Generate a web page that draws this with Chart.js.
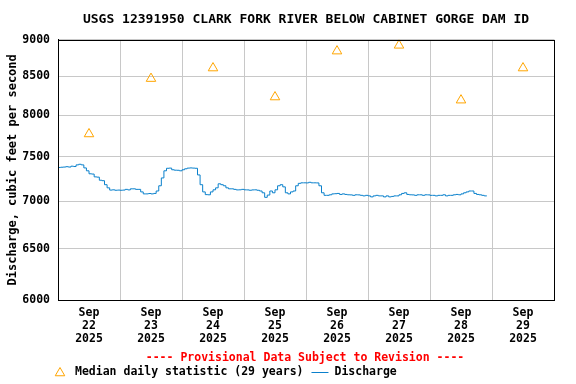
<!DOCTYPE html>
<html>
<head>
<meta charset="utf-8">
<script src="https://cdn.jsdelivr.net/npm/chart.js@4.4.0/dist/chart.umd.min.js"></script>
<style>
  html, body { margin: 0; padding: 0; background: #fff; }
  #wrap { width: 576px; height: 384px; }
</style>
</head>
<body>
<div id="wrap"><canvas id="hydroChart"></canvas></div>
<script>
// DATA

const dayLabels = ["22", "23", "24", "25", "26", "27", "28", "29"];
const yTickValues = [6000, 6500, 7000, 7500, 8000, 8500, 9000];

// median daily statistic, plotted at noon of each day (hours since Sep 22 00:00)
const medianHours = [12, 36, 60, 84, 108, 132, 156, 180];
const medianCfs = [7770, 8470, 8610, 8230, 8840, 8920, 8190, 8610];

// discharge, one value per hour starting Sep 22 00:00
const dischargeCfs = [
  7375, 7378, 7380, 7384, 7380, 7390, 7386, 7405, 7412, 7405,
  7370, 7337, 7303, 7300, 7268, 7265, 7230, 7225, 7180, 7145,
  7120, 7123, 7118, 7120, 7118, 7120, 7128, 7122, 7134, 7134,
  7128, 7128, 7100, 7078, 7078, 7082, 7078, 7083, 7110, 7168,
  7256, 7337, 7366, 7368, 7349, 7344, 7343, 7337, 7349, 7360,
  7368, 7370, 7368, 7366, 7290, 7180, 7100, 7070, 7068, 7100,
  7123, 7145, 7190, 7180, 7168, 7145, 7134, 7134, 7128, 7122,
  7123, 7128, 7123, 7122, 7118, 7122, 7123, 7118, 7110, 7090,
  7040, 7065, 7110, 7090, 7123, 7168, 7180, 7156, 7090, 7078,
  7100, 7110, 7168, 7195, 7201, 7201, 7200, 7207, 7201, 7201,
  7200, 7168, 7090, 7062, 7062, 7068, 7078, 7080, 7083, 7072,
  7078, 7072, 7068, 7067, 7062, 7068, 7067, 7062, 7056, 7062,
  7056, 7045, 7056, 7062, 7056, 7056, 7045, 7056, 7045, 7050,
  7056, 7056, 7068, 7083, 7090, 7072, 7068, 7067, 7062, 7068,
  7068, 7062, 7068, 7067, 7062, 7062, 7056, 7062, 7062, 7068,
  7056, 7062, 7062, 7068, 7072, 7068, 7078, 7090, 7100, 7110,
  7110, 7083, 7072, 7068, 7062, 7056, 7056,
];

const MONO = "'DejaVu Sans Mono', 'Liberation Mono', monospace";
const ORANGE = "#ffa500";
const BLUE = "#0a80cc";

// frame round the plot + provisional note + legend
const frameAndNotes = {
  id: "frameAndNotes",
  afterDraw(chart) {
    const { ctx, chartArea: a } = chart;
    ctx.save();
    ctx.strokeStyle = "#000";
    ctx.lineWidth = 1;
    ctx.strokeRect(Math.round(a.left) + 0.5, Math.round(a.top) + 0.5,
      Math.round(a.right - a.left), Math.round(a.bottom - a.top));

    ctx.textBaseline = "middle";
    ctx.textAlign = "center";
    ctx.fillStyle = "#ff0000";
    ctx.font = "bold 11.5px " + MONO;
    ctx.fillText("---- Provisional Data Subject to Revision ----", 305, 358);

    const ly = 372;
    ctx.strokeStyle = ORANGE;
    ctx.fillStyle = "rgba(0,0,0,0)";
    Chart.helpers.drawPoint(ctx, { pointStyle: "triangle", radius: 5.5, borderWidth: 1 }, 60, ly + 1);

    ctx.textAlign = "left";
    ctx.fillStyle = "#000";
    ctx.font = "bold 11.5px " + MONO;
    const t1 = "Median daily statistic (29 years)";
    ctx.fillText(t1, 75, ly);
    const lx = 75 + ctx.measureText(t1).width + 8;
    ctx.strokeStyle = BLUE;
    ctx.beginPath();
    ctx.moveTo(lx, ly + 0.5);
    ctx.lineTo(lx + 17, ly + 0.5);
    ctx.stroke();
    ctx.fillText("Discharge", lx + 23, ly);
    ctx.restore();
  },
};

const hydroChart = document.getElementById("hydroChart");

new Chart(hydroChart, {
  type: "line",
  data: {
    datasets: [
      {
        label: "Median daily statistic (29 years)",
        data: medianHours.map((h, i) => ({ x: h, y: medianCfs[i] })),
        showLine: false,
        pointStyle: "triangle",
        pointRadius: 5.5,
        pointBorderWidth: 1,
        borderColor: ORANGE,
        backgroundColor: "rgba(0,0,0,0)",
      },
      {
        label: "Discharge",
        data: dischargeCfs.map((v, i) => ({ x: i, y: v })),
        borderColor: BLUE,
        borderWidth: 1,
        pointRadius: 0,
        stepped: true,
      },
    ],
  },
  options: {
    responsive: true,
    maintainAspectRatio: false,
    animation: false,
    layout: { padding: { left: 0, right: 22, top: 0, bottom: 38 } },
    plugins: {
      legend: { display: false },
      tooltip: { enabled: false },
      title: {
        display: true,
        fullSize: false,
        text: "USGS 12391950 CLARK FORK RIVER BELOW CABINET GORGE DAM ID",
        color: "#000",
        font: { family: MONO, size: 13, weight: "bold" },
        padding: { top: 12, bottom: 12 },
      },
    },
    scales: {
      x: {
        type: "linear",
        min: 0,
        max: 192,
        afterBuildTicks: (scale) => {
          const t = [];
          for (let h = 0; h <= 192; h += 12) t.push({ value: h });
          scale.ticks = t;
        },
        afterFit: (scale) => {
          scale.height = 46;
        },
        grid: {
          drawTicks: false,
          color: (ctx) => (ctx.tick && ctx.tick.value % 24 === 0 ? "#c8c8c8" : "rgba(0,0,0,0)"),
        },
        border: { color: "#000" },
        ticks: {
          autoSkip: false,
          maxRotation: 0,
          padding: 7,
          color: "#000",
          font: { family: MONO, size: 11.5, weight: "bold", lineHeight: 1.13 },
          callback: (v) => (v % 24 === 12 ? ["Sep", dayLabels[(v - 12) / 24], "2025"] : ""),
        },
      },
      y: {
        type: "logarithmic",
        min: 6000,
        max: 9000,
        afterBuildTicks: (scale) => {
          scale.ticks = yTickValues.map((v) => ({ value: v }));
        },
        afterFit: (scale) => {
          scale.width = 58;
        },
        grid: { drawTicks: false, color: "#c8c8c8" },
        border: { color: "#000" },
        ticks: {
          padding: 8,
          color: "#000",
          font: { family: MONO, size: 11.5, weight: "bold" },
          callback: (v) => String(v),
        },
        title: {
          display: true,
          text: "Discharge, cubic feet per second",
          color: "#000",
          font: { family: MONO, size: 12, weight: "bold" },
          padding: { top: 6, bottom: 0 },
        },
      },
    },
  },
  plugins: [frameAndNotes],
});
</script>
</body>
</html>
